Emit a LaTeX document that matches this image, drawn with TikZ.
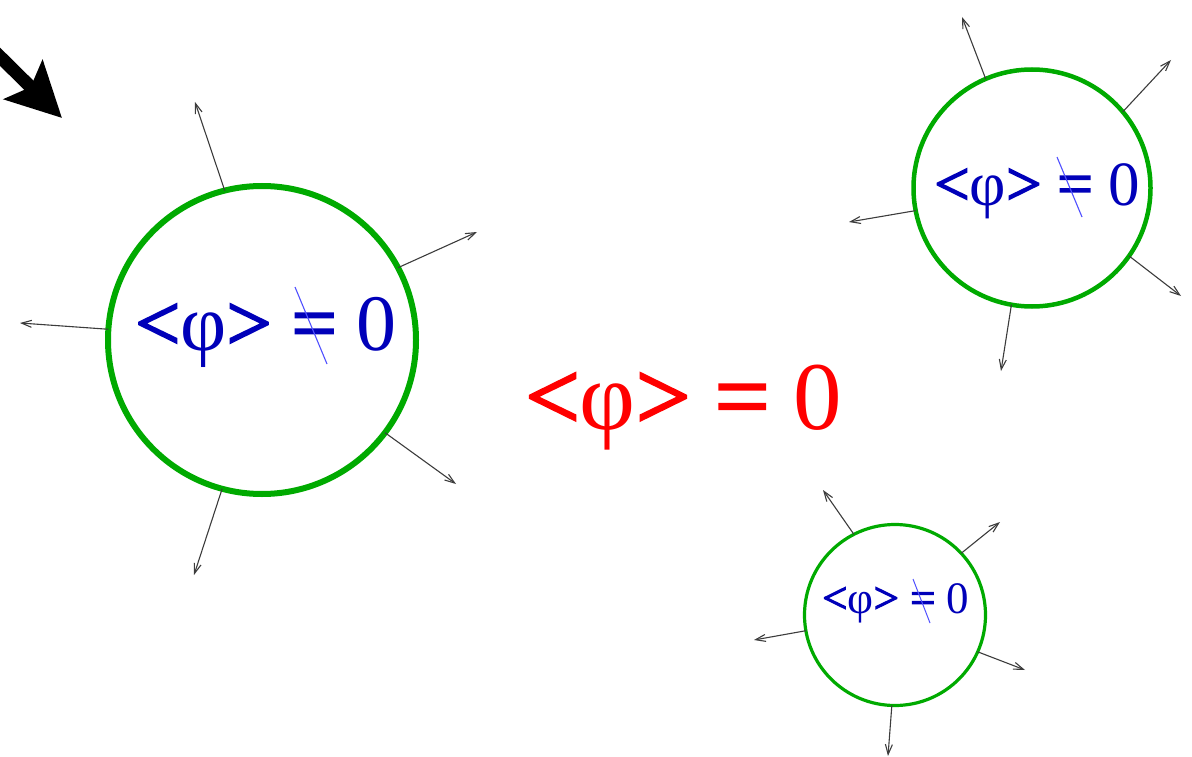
\documentclass[tikz,border=0pt]{standalone}
\usepackage{fontspec}
\setmainfont{Liberation Serif}
\newfontfamily\heavyfont[FakeBold=2.5]{Liberation Serif}
\usetikzlibrary{arrows.meta}
\definecolor{cgreen}{RGB}{0,170,0}
\definecolor{cblue}{RGB}{0,0,185}
\definecolor{cstrike}{RGB}{80,80,255}
\definecolor{cred}{RGB}{255,0,0}
\definecolor{cgray}{RGB}{60,60,60}
\newcommand{\expr}{{\heavyfont <}φ{\heavyfont >} {\heavyfont =} 0}
\begin{document}
\begin{tikzpicture}[x=1pt,y=-1pt,
 bubble/.style={circle,draw=cgreen,inner sep=0pt,outer sep=0pt},
 ray/.style={draw=cgray,line width=1.1pt,-{Straight Barb[length=10pt,width=7pt]}},
 lbl/.style={inner sep=0pt,anchor=base west,text=cblue},
 strike/.style={draw=cstrike,line width=1.1pt}]
\useasboundingbox (0,0) rectangle (1192,757);
% bubbles
\node[bubble,line width=6pt,minimum size=308pt] (b1) at (262,340) {};
\node[bubble,line width=4.5pt,minimum size=237pt] (b2) at (1032,188) {};
\node[bubble,line width=3.2pt,minimum size=181pt] (b3) at (895,615) {};
% ray end points
\coordinate (e11) at (195,102);
\coordinate (e12) at (477,232);
\coordinate (e13) at (20,323);
\coordinate (e14) at (456,484);
\coordinate (e15) at (194,575);
\coordinate (e21) at (962,17);
\coordinate (e22) at (1171,60);
\coordinate (e23) at (849,222);
\coordinate (e24) at (1181,296);
\coordinate (e25) at (1001,371);
\coordinate (e31) at (823,490);
\coordinate (e32) at (1000,522);
\coordinate (e33) at (754,640);
\coordinate (e34) at (1025,670);
\coordinate (e35) at (888,756);
% rays
\draw[ray] (b1.104) -- (e11);
\draw[ray] (b1.28) -- (e12);
\draw[ray] (b1.176) -- (e13);
\draw[ray] (b1.-37) -- (e14);
\draw[ray] (b1.255) -- (e15);
\draw[ray] (b2.113) -- (e21);
\draw[ray] (b2.40) -- (e22);
\draw[ray] (b2.191) -- (e23);
\draw[ray] (b2.325) -- (e24);
\draw[ray] (b2.260) -- (e25);
\draw[ray] (b3.117) -- (e31);
\draw[ray] (b3.43) -- (e32);
\draw[ray] (b3.190) -- (e33);
\draw[ray] (b3.336) -- (e34);
\draw[ray] (b3.268) -- (e35);
% big black arrow
\coordinate (k0) at (-25,32);
\coordinate (k1) at (62,118);
\draw[line width=13pt,-{Stealth[length=54pt,width=54pt,inset=10pt]}] (k0) -- (k1);
% labels
\node[lbl,font=\fontsize{80}{80}\selectfont] (t1) at (135,350) {\expr};
\draw[strike] (295,287) -- (327,364);
\node[lbl,font=\fontsize{63}{63}\selectfont] (t2) at (934,205) {\expr};
\draw[strike] (1057,157) -- (1082,217);
\node[lbl,font=\fontsize{45}{45}\selectfont] (t3) at (822,613) {\expr};
\draw[strike,line width=1pt] (913,579) -- (930,623);
\node[lbl,text=cred,font=\fontsize{97}{97}\selectfont] (t0) at (525,429) {\expr};
\end{tikzpicture}
\end{document}
